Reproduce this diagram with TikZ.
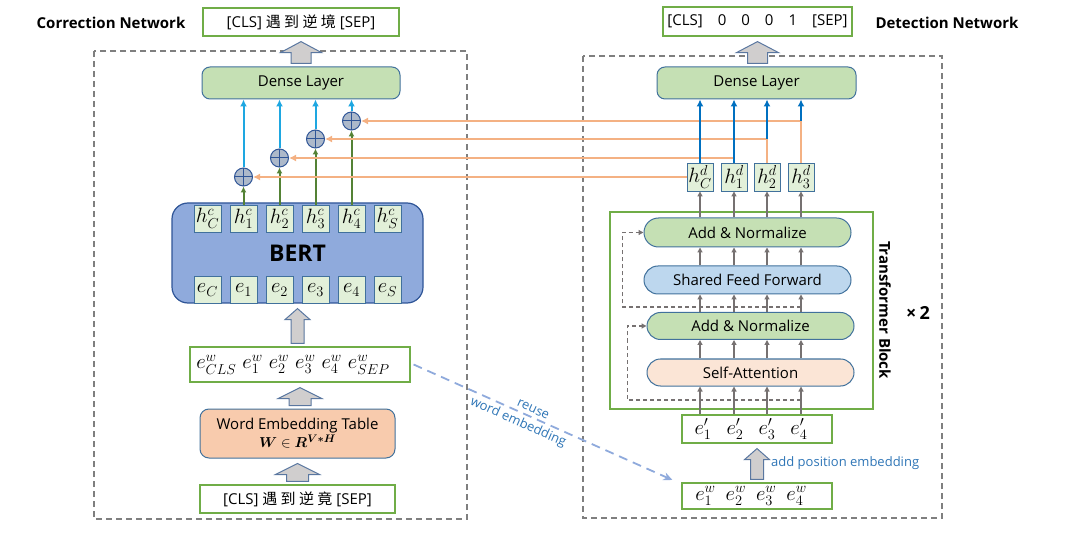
\documentclass[tikz,border=0pt]{standalone}
\usepackage{fontspec}
\setmainfont{Open Sans}
\newfontfamily\cjk{Noto Sans CJK SC}
\usepackage{amsmath,bm}
\usepackage{xcolor}
\usetikzlibrary{arrows.meta,positioning,calc}
\definecolor{boxgreen}{HTML}{70AD47}
\definecolor{edgeblue}{HTML}{41719C}
\definecolor{cellgreen}{HTML}{E2F0D9}
\definecolor{densegreen}{HTML}{C5E0B4}
\definecolor{bertfill}{HTML}{8FAADC}
\definecolor{bertedge}{HTML}{2F5597}
\definecolor{weorange}{HTML}{F8CBAD}
\definecolor{saorange}{HTML}{FBE5D6}
\definecolor{sffblue}{HTML}{BDD7EE}
\definecolor{plusfill}{HTML}{ADB9CA}
\definecolor{dashgray}{HTML}{7F7F7F}
\definecolor{arrgray}{HTML}{767171}
\definecolor{arrfill}{HTML}{D0CECE}
\definecolor{arredge}{HTML}{5A77A0}
\definecolor{cyanarr}{HTML}{1EA7E1}
\definecolor{deepblue}{HTML}{0070C0}
\definecolor{greenarr}{HTML}{548235}
\definecolor{orangearr}{HTML}{F4B183}
\definecolor{posblue}{HTML}{2E75B6}
\definecolor{reuseblue}{HTML}{8FAADC}
% hollow block arrow: from #1 up to #2, head half width #3, shaft half width #4
\newcommand{\fatup}[4]{%
  \draw[fatarr] let \p1=#1, \p2=#2 in
    (\x2-#4,\y1+3pt) -- (\x2-#4,\y2-16pt) -- (\x2-#3,\y2-16pt) -- (\x2,\y2-5pt)
    -- (\x2+#3,\y2-16pt) -- (\x2+#4,\y2-16pt) -- (\x2+#4,\y1+3pt) -- cycle;}

\begin{document}
\begin{tikzpicture}[x=1pt,y=-1pt,
  lab/.style={font=\fontsize{15}{17}\selectfont},
  nettitle/.style={font=\fontsize{15}{17}\selectfont\bfseries},
  mathrow/.style={font=\fontsize{20}{20}\selectfont},
  bluenote/.style={text=posblue, font=\fontsize{13}{15}\selectfont, inner sep=1pt},
  txtbox/.style={draw=boxgreen, line width=1.2pt, fill=white, inner sep=0pt, lab},
  dense/.style={draw=edgeblue, line width=1pt, fill=densegreen, rounded corners=8pt,
                minimum width=198pt, minimum height=32pt, lab},
  tlayer/.style={draw=edgeblue, line width=1pt, rounded corners=13.5pt,
                 minimum width=207pt, minimum height=27pt, inner sep=0pt, lab},
  cell/.style={draw=edgeblue, line width=0.9pt, fill=cellgreen, minimum width=27pt,
               minimum height=27pt, inner sep=0pt, font=\fontsize{21}{21}\selectfont},
  plus/.style={circle, draw=bertedge, fill=plusfill, line width=1pt, minimum size=18pt,
               inner sep=0pt, path picture={\draw[bertedge, line width=1pt]
               (path picture bounding box.north) -- (path picture bounding box.south)
               (path picture bounding box.west) -- (path picture bounding box.east);}},
  dashframe/.style={draw=dashgray, line width=1.3pt, dash pattern=on 6pt off 4pt},
  fatarr/.style={draw=arredge, fill=arrfill, line width=1pt},
  upgray/.style={draw=arrgray, line width=2pt, -{Triangle[length=5pt,width=5pt]}},
  resid/.style={draw=arrgray, line width=1.5pt, dash pattern=on 4pt off 3pt,
                -{Triangle[length=5pt,width=5pt]}},
  tocyan/.style={draw=cyanarr, line width=2pt, -{Latex[length=7pt,width=7pt]}},
  todense/.style={draw=deepblue, line width=2pt, -{Latex[length=7pt,width=7pt]}},
  togreen/.style={draw=greenarr, line width=2pt, -{Latex[length=6pt,width=6pt]}},
  toorange/.style={draw=orangearr, line width=2pt, -{Latex[length=7pt,width=7pt]}},
  reusearr/.style={draw=reuseblue, line width=1.8pt, dash pattern=on 9pt off 6pt,
                   -{Stealth[length=9pt,width=8pt]}}]
\useasboundingbox (0,0) rectangle (1065,534);
\draw[dashframe] (94,51) rectangle (467,519);
\draw[dashframe] (583,56) rectangle (942,518);

\node[nettitle] (corrt) at (111,23) {Correction Network};
\node[txtbox, minimum width=196pt, minimum height=28pt] (ctop) at (301,22) {[CLS]\ {\cjk 遇\ 到\ 逆\ 境}\ [SEP]};
\node[dense] (cdense) at (301,83) {Dense Layer};
\node[draw=bertedge, fill=bertfill, line width=1.2pt, rounded corners=16pt, minimum width=251pt,
      minimum height=100pt, font=\fontsize{23}{25}\selectfont\bfseries] (bert) at (297.5,253) {BERT};
\foreach \s [count=\i from 0] in {C,1,2,3,4,S} {
  \node[cell] (hc\s) at (207.5+36*\i,218.5) {$h^c_{\s}$};
  \node[cell] (e\s) at (207.5+36*\i,290) {$e_{\s}$};
}
\foreach \s/\y in {1/177,2/158,3/139,4/121} {
  \node[plus] (p\s) at (207.5+36*\s,\y) {};
  \draw[togreen] (hc\s.north) -- (p\s.south);
  \draw[tocyan] (p\s.north) -- (p\s.north |- cdense.south);
}
\node[txtbox, mathrow, minimum width=220pt, minimum height=35pt] (cew) at (300,364.5)
  {$e^w_{CLS}$\hspace{6pt}$e^w_1$\hspace{6pt}$e^w_2$\hspace{6pt}$e^w_3$\hspace{6pt}$e^w_4$\hspace{6pt}$e^w_{SEP}$\hspace*{14pt}};
\node[dense, fill=weorange, rounded corners=9pt, minimum width=195pt, minimum height=49pt,
      align=center, inner sep=2pt] (wet) at (297.5,433.5) {Word Embedding Table\\[1pt]$\bm{W}\in\bm{R}^{\bm{V*H}}$};
\node[txtbox, minimum width=195pt, minimum height=28pt] (cbot) at (297.5,499) {[CLS]\ {\cjk 遇\ 到\ 逆\ 竟}\ [SEP]};
\fatup{(cdense.north)}{(ctop.south)}{20.5pt}{10pt}
\fatup{(cew.north)}{(bert.south)}{12.5pt}{6.5pt}
\fatup{(wet.north)}{(cew.south)}{22pt}{11pt}
\fatup{(cbot.north)}{(wet.south)}{22pt}{11pt}

\node[nettitle] (dett) at (947,23) {Detection Network};
\node[txtbox, minimum width=189pt, minimum height=29pt] (dtop) at (757.5,21.5) {[CLS]\quad 0\quad 0\quad 0\quad 1\quad [SEP]};
\node[dense, minimum width=199pt] (ddense) at (756.5,83) {Dense Layer};
\foreach \s/\x in {C/700,1/734,2/767,3/801}
  \node[cell, minimum width=26pt, minimum height=28pt] (hd\s) at (\x,177) {$h^d_{\s}$};
\node[draw=boxgreen, line width=1.6pt, minimum width=263pt, minimum height=197pt] (tblock) at (741.5,310.5) {};
\node[tlayer, fill=densegreen, minimum height=29pt, rounded corners=14.5pt] (an2) at (747.5,232.5) {Add \& Normalize};
\node[tlayer, fill=sffblue, minimum height=28pt, rounded corners=14pt] (sff) at (747.5,280) {Shared Feed Forward};
\node[tlayer, fill=densegreen] (an1) at (750.5,326) {Add \& Normalize};
\node[tlayer, fill=saorange] (satt) at (750.5,372.5) {Self-Attention};
\node[nettitle, rotate=-90] (tbl) at (885,310) {Transformer Block};
\node[font=\fontsize{18}{18}\selectfont\bfseries] (times) at (918,313) {×\,2};
\node[txtbox, mathrow, minimum width=150pt, minimum height=28pt] (ep) at (757,429)
  {$e'_1$\hspace{15pt}$e'_2$\hspace{15pt}$e'_3$\hspace{15pt}$e'_4$\hspace*{12pt}};
\node[txtbox, mathrow, minimum width=150pt, minimum height=26pt] (dew) at (757,496)
  {$e^w_1$\hspace{10pt}$e^w_2$\hspace{10pt}$e^w_3$\hspace{10pt}$e^w_4$\hspace*{12pt}};
\fatup{(dew.north)}{(ep.south)}{12.5pt}{6.5pt}
\fatup{(ddense.north)}{(dtop.south)}{21pt}{10pt}
\node[bluenote, anchor=west] (addpos) at (770,463) {add position embedding};

\foreach \s in {C,1,2,3} {
  \draw[upgray] (ep.north -| hd\s) -- (satt.south -| hd\s);
  \draw[upgray] (satt.north -| hd\s) -- (an1.south -| hd\s);
  \draw[upgray] (an1.north -| hd\s) -- (sff.south -| hd\s);
  \draw[upgray] (sff.north -| hd\s) -- (an2.south -| hd\s);
  \draw[upgray] (an2.north -| hd\s) -- (hd\s.south);
}
\coordinate (r1) at (801,400);
\coordinate (r2) at (801,307);
\draw[resid] (r1) -| ([xshift=-19pt]an1.west) -- (an1.west);
\draw[resid] (r2) -| ([xshift=-21pt]an2.west) -- (an2.west);

\draw[toorange] (hdC.west) -- (p1);
\draw[toorange] (hd1.north |- p2) -- (p2);
\draw[toorange] (hd2.north) |- (p3);
\draw[toorange] (hd3.north) |- (p4);
\draw[todense] (hdC.north) -- (hdC.north |- ddense.south);
\draw[todense] (hd1.north) -- (hd1.north |- ddense.south);
\draw[todense] (hd2.north |- p3) -- (hd2.north |- ddense.south);
\draw[todense] (hd3.north |- p4) -- (hd3.north |- ddense.south);

\draw[reusearr] ([xshift=3pt]cew.east) --
  node[bluenote, sloped, pos=0.45, above=2pt] (reuse1) {reuse}
  node[bluenote, sloped, pos=0.42, below=2pt] (reuse2) {word embedding}
  ([xshift=-9pt,yshift=16pt]dew.west);
\end{tikzpicture}
\end{document}
